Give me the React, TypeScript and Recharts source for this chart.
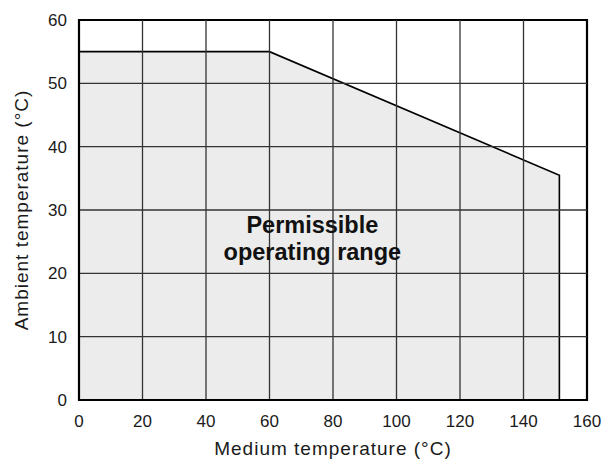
import { AreaChart, Area, XAxis, YAxis, ReferenceArea, ReferenceLine, ReferenceDot } from "recharts";

// boundary of the permissible operating range
const mediumTemps = [0, 60, 151.3, 151.3];
const ambientTemps = [55, 55, 35.5, 0];

const xTicks = [0, 20, 40, 60, 80, 100, 120, 140, 160];
const yTicks = [0, 10, 20, 30, 40, 50, 60];

const data = mediumTemps.map((m, i) => ({ medium: m, ambient: ambientTemps[i] }));

const font = "'Liberation Sans', Arial, Helvetica, sans-serif";

const RangeLabel = (props: any) => {
  const vb = props.viewBox || {};
  const cx = vb.x ?? 311;
  const cy = vb.y ?? 232;
  return (
    <text textAnchor="middle" fontFamily={font} fontWeight="bold" fontSize={23.5} fill="#111">
      <tspan x={cx} y={cy + 1}>Permissible</tspan>
      <tspan x={cx} y={cy + 28}>operating range</tspan>
    </text>
  );
};

export default function App() {
  return (
    <div style={{ position: "absolute", left: 0, top: 0, background: "#fff" }}>
      <AreaChart
        width={602}
        height={459}
        data={data}
        margin={{ top: 20, right: 15, bottom: 0, left: 0 }}
      >
        <XAxis
          dataKey="medium"
          type="number"
          domain={[0, 160]}
          ticks={xTicks}
          tickLine={false}
          axisLine={{ stroke: "#000", strokeWidth: 2 }}
          tick={{ fill: "#1a1a1a", fontSize: 17, fontFamily: font, dy: 7 }}
          height={59}
          label={{
            value: "Medium temperature (°C)",
            position: "insideBottom",
            offset: 4,
            fill: "#1a1a1a",
            fontSize: 19,
            fontFamily: font,
            style: { letterSpacing: 1 },
          }}
        />
        <YAxis
          type="number"
          domain={[0, 60]}
          ticks={yTicks}
          tickLine={false}
          axisLine={{ stroke: "#000", strokeWidth: 2 }}
          tick={{ fill: "#1a1a1a", fontSize: 17, fontFamily: font, dx: -4 }}
          width={79}
          label={{
            value: "Ambient temperature (°C)",
            angle: -90,
            position: "insideLeft",
            offset: 21,
            fill: "#1a1a1a",
            fontSize: 19,
            fontFamily: font,
            style: { textAnchor: "middle", letterSpacing: 1 },
          }}
        />
        <Area
          type="linear"
          dataKey="ambient"
          stroke="#000"
          strokeWidth={1.6}
          fill="#ebeceb"
          fillOpacity={1}
          isAnimationActive={false}
        />
        {xTicks.slice(1, -1).map((t) => (
          <ReferenceLine key={"x" + t} x={t} stroke="#333" strokeWidth={1.3} />
        ))}
        {yTicks.slice(1, -1).map((t) => (
          <ReferenceLine key={"y" + t} y={t} stroke="#333" strokeWidth={1.3} />
        ))}
        <ReferenceArea x1={0} x2={160} y1={0} y2={60} fill="none" fillOpacity={0} stroke="#000" strokeWidth={2.2} />
        <ReferenceDot x={73.5} y={26.5} r={0} fill="none" stroke="none" label={{ content: RangeLabel }} />
      </AreaChart>
    </div>
  );
}
